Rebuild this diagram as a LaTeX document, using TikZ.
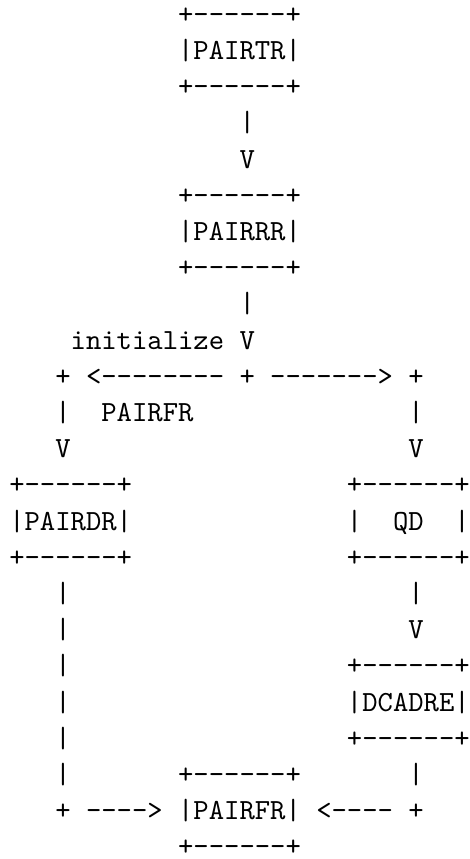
\documentclass[tikz,border=0pt]{standalone}
\tikzset{asc/.style={font=\ttfamily, anchor=base west, inner sep=0pt, outer sep=0pt}}
\begin{document}
\begin{tikzpicture}
\useasboundingbox (0pt,0pt) rectangle (160.7pt,-293.8pt);
\begin{scope}[shift={(3.18pt,-8.0pt)}, x=5.25pt, y=-12.38pt]
                \draw (11,0) node[asc] (trtop) {+------+} ;
                \draw (11,1) node[asc] (tr) {|PAIRTR|} ;
                \draw (11,2) node[asc] (trbot) {+------+} ;
                \draw (15,3) node[asc] (stema) {|} ;
                \draw (15,4) node[asc] (heada) {V} ;
                \draw (11,5) node[asc] (rrtop) {+------+} ;
                \draw (11,6) node[asc] (rr) {|PAIRRR|} ;
                \draw (11,7) node[asc] (rrbot) {+------+} ;
                \draw (15,8) node[asc] (stemb) {|} ;
                \draw (4,9) node[asc] (init) {initialize} ;
                \draw (15,9) node[asc] (headb) {V} ;
                \draw (3,10) node[asc] (forkl) {+} ;
                \draw (5,10) node[asc] (arrl) {<--------} ;
                \draw (15,10) node[asc] (fork) {+} ;
                \draw (17,10) node[asc] (arrr) {------->} ;
                \draw (26,10) node[asc] (forkr) {+} ;
                \draw (3,11) node[asc] (stemc) {|} ;
                \draw (6,11) node[asc] (fr) {PAIRFR} ;
                \draw (26,11) node[asc] (stemd) {|} ;
                \draw (3,12) node[asc] (headc) {V} ;
                \draw (26,12) node[asc] (headd) {V} ;
                \draw (0,13) node[asc] (drtop) {+------+} ;
                \draw (0,14) node[asc] (dr) {|PAIRDR|} ;
                \draw (0,15) node[asc] (drbot) {+------+} ;
                \draw (22,13) node[asc] (qdtop) {+------+} ;
                \draw (22,14) node[asc] (qd) {|\ \ QD\ \ |} ;
                \draw (22,15) node[asc] (qdbot) {+------+} ;
                \draw (3,16) node[asc] (linea) {|} ;
                \draw (3,17) node[asc] (lineb) {|} ;
                \draw (3,18) node[asc] (linec) {|} ;
                \draw (3,19) node[asc] (lined) {|} ;
                \draw (3,20) node[asc] (linee) {|} ;
                \draw (3,21) node[asc] (linef) {|} ;
                \draw (26,16) node[asc] (stemf) {|} ;
                \draw (26,17) node[asc] (headf) {V} ;
                \draw (22,18) node[asc] (catop) {+------+} ;
                \draw (22,19) node[asc] (ca) {|DCADRE|} ;
                \draw (22,20) node[asc] (cabot) {+------+} ;
                \draw (26,21) node[asc] (stemg) {|} ;
                \draw (11,21) node[asc] (endtop) {+------+} ;
                \draw (3,22) node[asc] (joinl) {+} ;
                \draw (5,22) node[asc] (arrjl) {---->} ;
                \draw (11,22) node[asc] (end) {|PAIRFR|} ;
                \draw (20,22) node[asc] (arrjr) {<----} ;
                \draw (26,22) node[asc] (joinr) {+} ;
                \draw (11,23) node[asc] (endbot) {+------+} ;
\end{scope}
\end{tikzpicture}
\end{document}
